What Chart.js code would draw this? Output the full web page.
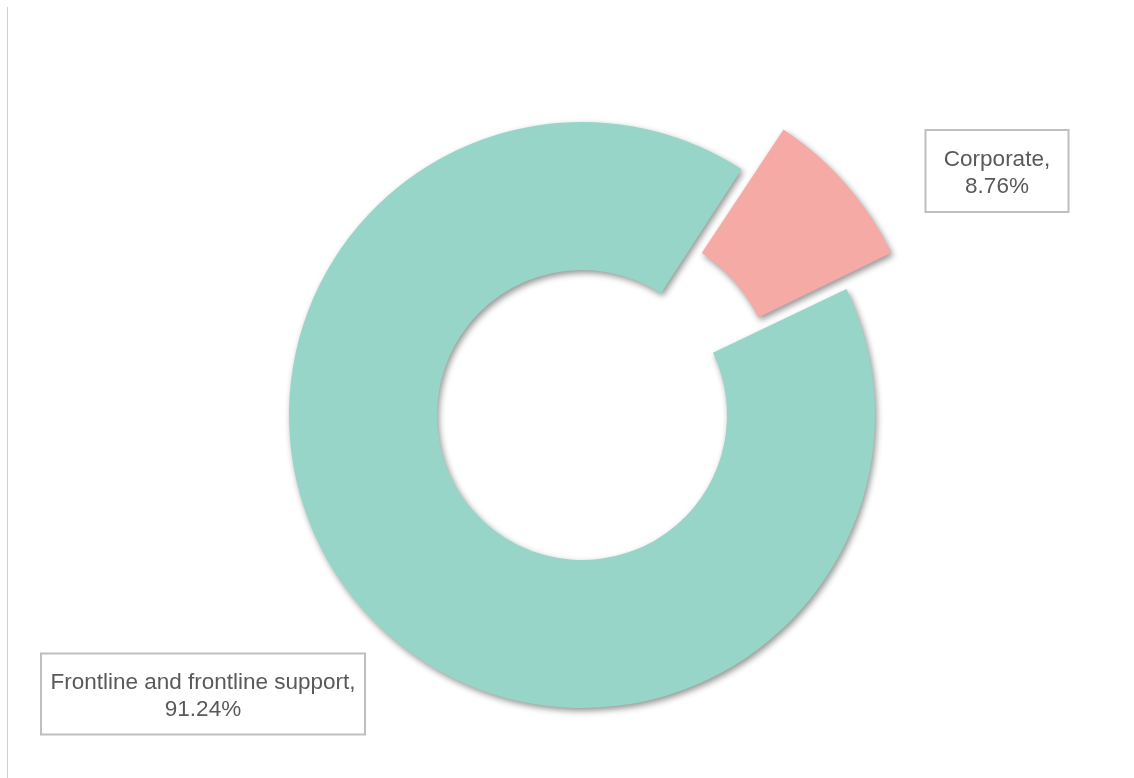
<!DOCTYPE html>
<html>
<head>
<meta charset="utf-8">
<script src="https://cdn.jsdelivr.net/npm/chart.js@4/dist/chart.umd.min.js"></script>
<style>
  html, body { margin:0; padding:0; background:#fff; }
  #wrap { position:relative; width:1134px; height:778px; overflow:hidden; }
  #edge { position:absolute; left:7px; top:7px; bottom:0; width:1px; background:#cfcfcf; }
  canvas { position:absolute; left:0; top:0; }
</style>
</head>
<body>
<div id="wrap">
  <div id="edge"></div>
  <canvas id="split" width="1134" height="778"></canvas>
</div>
<script>
const labels = ["Corporate", "Frontline and frontline support"];
const values = [8.76, 91.24];
const colors = ["#F5AAA6", "#97D5C8"];
// chart.js shrinks the offset of a small arc, so this pushes the slice out ~57px
const offsets = [156, 0];

// where each callout box is centred (layout only)
const boxCenters = [[997, 171], [203, 694]];
const boxSizes = [[143, 82], [324, 81]];

const shadowPlugin = {
  id: "sliceShadow",
  beforeDatasetsDraw(chart) {
    const ctx = chart.ctx;
    ctx.save();
    ctx.shadowColor = "rgba(0,0,0,0.42)";
    ctx.shadowBlur = 6;
    ctx.shadowOffsetX = 2;
    ctx.shadowOffsetY = 3;
  },
  afterDatasetsDraw(chart) {
    chart.ctx.restore();
  }
};

const calloutPlugin = {
  id: "callouts",
  afterDraw(chart) {
    const ctx = chart.ctx;
    ctx.save();
    ctx.font = '22.5px "Liberation Sans", Arial, sans-serif';
    ctx.textAlign = "center";
    ctx.textBaseline = "middle";
    labels.forEach((lab, i) => {
      const [cx, cy] = boxCenters[i];
      const [w, h] = boxSizes[i];
      ctx.fillStyle = "#fff";
      ctx.fillRect(cx - w / 2, cy - h / 2, w, h);
      ctx.strokeStyle = "#bfbfbf";
      ctx.lineWidth = 2;
      ctx.strokeRect(cx - w / 2, cy - h / 2, w, h);
      ctx.fillStyle = "#595959";
      ctx.fillText(lab + ",", cx, cy - 11);
      ctx.fillText(values[i].toFixed(2) + "%", cx, cy + 16);
    });
    ctx.restore();
  }
};

new Chart(document.getElementById("split"), {
  type: "doughnut",
  data: {
    labels,
    datasets: [{
      data: values,
      backgroundColor: colors,
      hoverBackgroundColor: colors,
      borderWidth: 0,
      offset: offsets,
      hoverOffset: 0
    }]
  },
  options: {
    responsive: false,
    animation: false,
    rotation: 33,
    radius: 293,
    cutout: "49.5%",
    layout: { padding: { left: 30, right: 0, top: 52, bottom: 0 } },
    plugins: {
      legend: { display: false },
      tooltip: { enabled: false }
    }
  },
  plugins: [shadowPlugin, calloutPlugin]
});
</script>
</body>
</html>
